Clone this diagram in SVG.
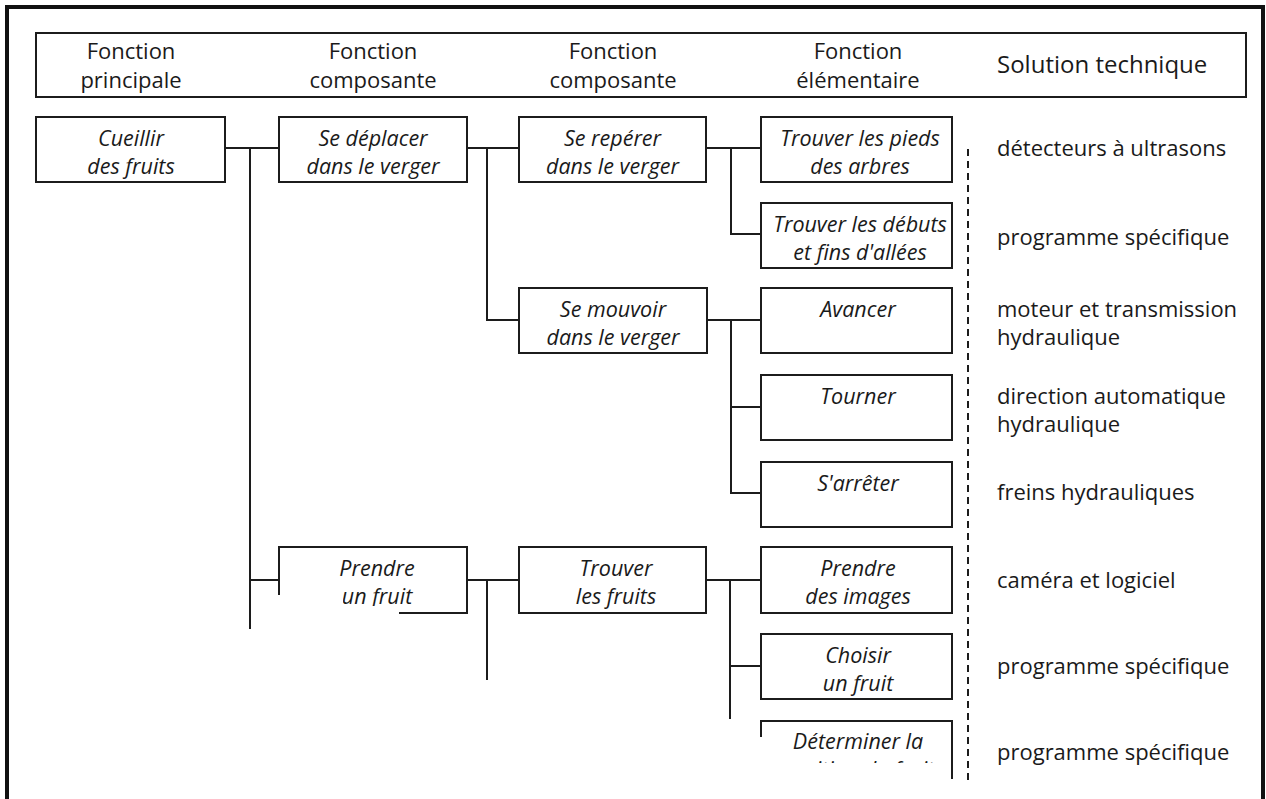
<svg xmlns="http://www.w3.org/2000/svg" width="1266" height="799" viewBox="0 0 1266 799">
<style>
.bg{fill:#ffffff}
.box{fill:none;stroke:#1c1c1c;stroke-width:2}
.ln{fill:none;stroke:#1c1c1c;stroke-width:2}
.dash{fill:none;stroke:#1c1c1c;stroke-width:2;stroke-dasharray:7 5}
.frame{fill:none;stroke:#111;stroke-width:4}
.hd{font-family:"Open Sans","Noto Sans","Liberation Sans",sans-serif;font-size:22px;fill:#1a1a1a;text-anchor:middle}
.nt{font-family:"Open Sans","Noto Sans","Liberation Sans",sans-serif;font-style:italic;font-size:21.5px;fill:#1a1a1a;text-anchor:middle}
.st{font-family:"Open Sans","Noto Sans","Liberation Sans",sans-serif;font-size:22px;fill:#1a1a1a}
</style>
<defs>
<clipPath id="clipPrendre"><path d="M0 0H1266V799H399V606H343V595H0Z"/></clipPath>
<clipPath id="clipDet"><path d="M0 0H1266V799H950V763H804V752H770V737H0Z"/></clipPath>
</defs>
<rect class="bg" x="0" y="0" width="1266" height="799"/>
<path class="frame" d="M7 799V7H1263V799"/>

<g id="header">
<rect class="box" x="36" y="33" width="1210" height="64"/>
<text class="hd" x="131" y="59">Fonction<tspan x="131" dy="29">principale</tspan></text>
<text class="hd" x="373" y="59">Fonction<tspan x="373" dy="29">composante</tspan></text>
<text class="hd" x="613" y="59">Fonction<tspan x="613" dy="29">composante</tspan></text>
<text class="hd" x="858" y="59">Fonction<tspan x="858" dy="29">élémentaire</tspan></text>
<text class="hd" x="997" y="73" style="text-anchor:start;font-size:24px">Solution technique</text>
</g>

<g id="connectors">
<path class="ln" d="M225 148H279M250 148V629M250 580H279"/>
<path class="ln" d="M467 148H519M487 148V320H519"/>
<path class="ln" d="M467 580H519M487 580V680"/>
<path class="ln" d="M706 148H761M731 148V234H761"/>
<path class="ln" d="M707 320H761M731 320V493H761M731 407H761"/>
<path class="ln" d="M706 580H761M730 580V719M730 666H761"/>
<path class="dash" d="M968 149V783"/>
</g>

<g id="n-cueillir">
<rect class="box" x="36" y="117" width="189" height="65"/>
<text class="nt" x="131" y="145.5">Cueillir<tspan x="131" dy="28">des fruits</tspan></text>
</g>
<g id="n-deplacer">
<rect class="box" x="279" y="117" width="188" height="65"/>
<text class="nt" x="373" y="145.5">Se déplacer<tspan x="373" dy="28">dans le verger</tspan></text>
</g>
<g id="n-reperer">
<rect class="box" x="519" y="117" width="187" height="65"/>
<text class="nt" x="612.5" y="145.5">Se repérer<tspan x="612.5" dy="28">dans le verger</tspan></text>
</g>
<g id="n-pieds">
<rect class="box" x="761" y="117" width="191" height="65"/>
<text class="nt" x="860" y="145.5">Trouver les pieds<tspan x="860" dy="28">des arbres</tspan></text>
</g>
<g id="n-debuts">
<rect class="box" x="761" y="203" width="191" height="65"/>
<text class="nt" x="860" y="231.5">Trouver les débuts<tspan x="860" dy="28">et fins d'allées</tspan></text>
</g>
<g id="n-mouvoir">
<rect class="box" x="519" y="288" width="188" height="65"/>
<text class="nt" x="613" y="316.5">Se mouvoir<tspan x="613" dy="28">dans le verger</tspan></text>
</g>
<g id="n-avancer">
<rect class="box" x="761" y="288" width="191" height="65"/>
<text class="nt" x="858" y="317">Avancer</text>
</g>
<g id="n-tourner">
<rect class="box" x="761" y="375" width="191" height="65"/>
<text class="nt" x="858" y="404">Tourner</text>
</g>
<g id="n-arreter">
<rect class="box" x="761" y="462" width="191" height="65"/>
<text class="nt" x="858" y="491">S'arrêter</text>
</g>
<g id="n-prendre" clip-path="url(#clipPrendre)">
<rect class="box" x="279" y="547" width="188" height="66"/>
<text class="nt" x="377" y="575.5">Prendre<tspan x="377" dy="28">un fruit</tspan></text>
</g>
<g id="n-trouver">
<rect class="box" x="519" y="547" width="187" height="66"/>
<text class="nt" x="616" y="575.5">Trouver<tspan x="616" dy="28">les fruits</tspan></text>
</g>
<g id="n-images">
<rect class="box" x="761" y="547" width="191" height="66"/>
<text class="nt" x="858" y="575.5">Prendre<tspan x="858" dy="28">des images</tspan></text>
</g>
<g id="n-choisir">
<rect class="box" x="761" y="634" width="191" height="65"/>
<text class="nt" x="858" y="662.5">Choisir<tspan x="858" dy="28">un fruit</tspan></text>
</g>
<g id="n-determiner" clip-path="url(#clipDet)">
<path class="box" d="M761 780V721H952V779"/>
<text class="nt" x="858" y="748.5">Déterminer la<tspan x="858" dy="28">position du fruit</tspan></text>
</g>

<g id="solutions">
<text class="st" x="997" y="156">détecteurs à ultrasons</text>
<text class="st" x="997" y="245">programme spécifique</text>
<text class="st" x="997" y="316.5">moteur et transmission<tspan x="997" dy="28.5">hydraulique</tspan></text>
<text class="st" x="997" y="403.5">direction automatique<tspan x="997" dy="28.5">hydraulique</tspan></text>
<text class="st" x="997" y="500">freins hydrauliques</text>
<text class="st" x="997" y="588">caméra et logiciel</text>
<text class="st" x="997" y="674">programme spécifique</text>
<text class="st" x="997" y="760">programme spécifique</text>
</g>
</svg>
